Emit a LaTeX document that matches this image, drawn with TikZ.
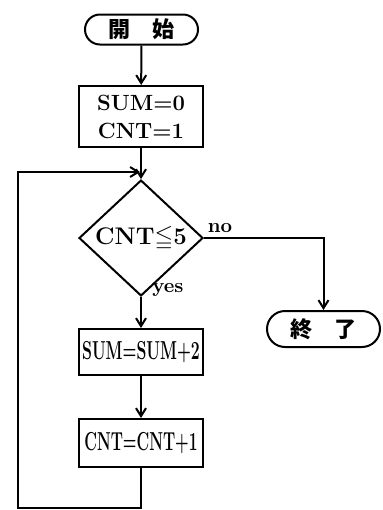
\documentclass[tikz,border=0pt]{standalone}
\usepackage{fontspec}
\usepackage{amssymb}
\newfontfamily\jpfont{Noto Sans CJK JP}
\usetikzlibrary{shapes.geometric,arrows.meta}
\begin{document}
\begin{tikzpicture}[x=0.5pt,y=-0.5pt, line width=1pt,
  >={Straight Barb[length=4pt,width=5pt]},
  term/.style={draw, rectangle, minimum width=56.5pt, inner sep=0pt},
  proc/.style={draw, rectangle, minimum width=62pt, inner sep=0pt, align=center,
    font=\bfseries\fontsize{11}{14}\selectfont},
  dec/.style={draw, diamond, minimum width=62pt, minimum height=45pt, inner sep=0pt,
    font=\bfseries\fontsize{12}{14}\selectfont},
  lbl/.style={font=\bfseries\fontsize{10}{12}\selectfont, inner sep=0pt},
  jp/.style={font=\jpfont\bfseries\fontsize{11}{12}\selectfont}]
\useasboundingbox (0,0) rectangle (382,510);
\node[term, jp, minimum height=15pt, rounded corners=7.5pt] (start) at (141.5,29.5)
  {開\hspace{1em}始};
\node[proc, minimum height=30.5pt] (init) at (141,116.5) {SUM=0\\CNT=1};
\node[dec] (cond) at (141,238) {CNT$\leqq$5};
\node[proc, minimum height=23pt] (add) at (141,352)
  {\fontsize{13}{15}\selectfont\scalebox{0.61}[1]{SUM=SUM+2}};
\node[proc, minimum height=24pt] (inc) at (141,443)
  {\fontsize{13}{15}\selectfont\scalebox{0.60}[1]{CNT=CNT+1}};
\node[term, jp, minimum height=18pt, rounded corners=9pt] (end) at (323.5,329)
  {終\hspace{1em}了};
\node[lbl] (no) at (220,228) {no};
\node[lbl] (yes) at (168,290) {yes};
\coordinate (c1) at (141,508);
\coordinate (c2) at (18,508);
\coordinate (c3) at (18,172);
\coordinate (loopin) at (140,172);
\draw[->] (start) -- (init);
\draw[->] (init) -- (cond);
\draw[->] (cond) -- (add);
\draw[->] (add) -- (inc);
\draw[->] (cond.east) -| (end.north);
\draw[->] (inc.south) -- (c1) -- (c2) -- (c3) -- (loopin);
\end{tikzpicture}
\end{document}
